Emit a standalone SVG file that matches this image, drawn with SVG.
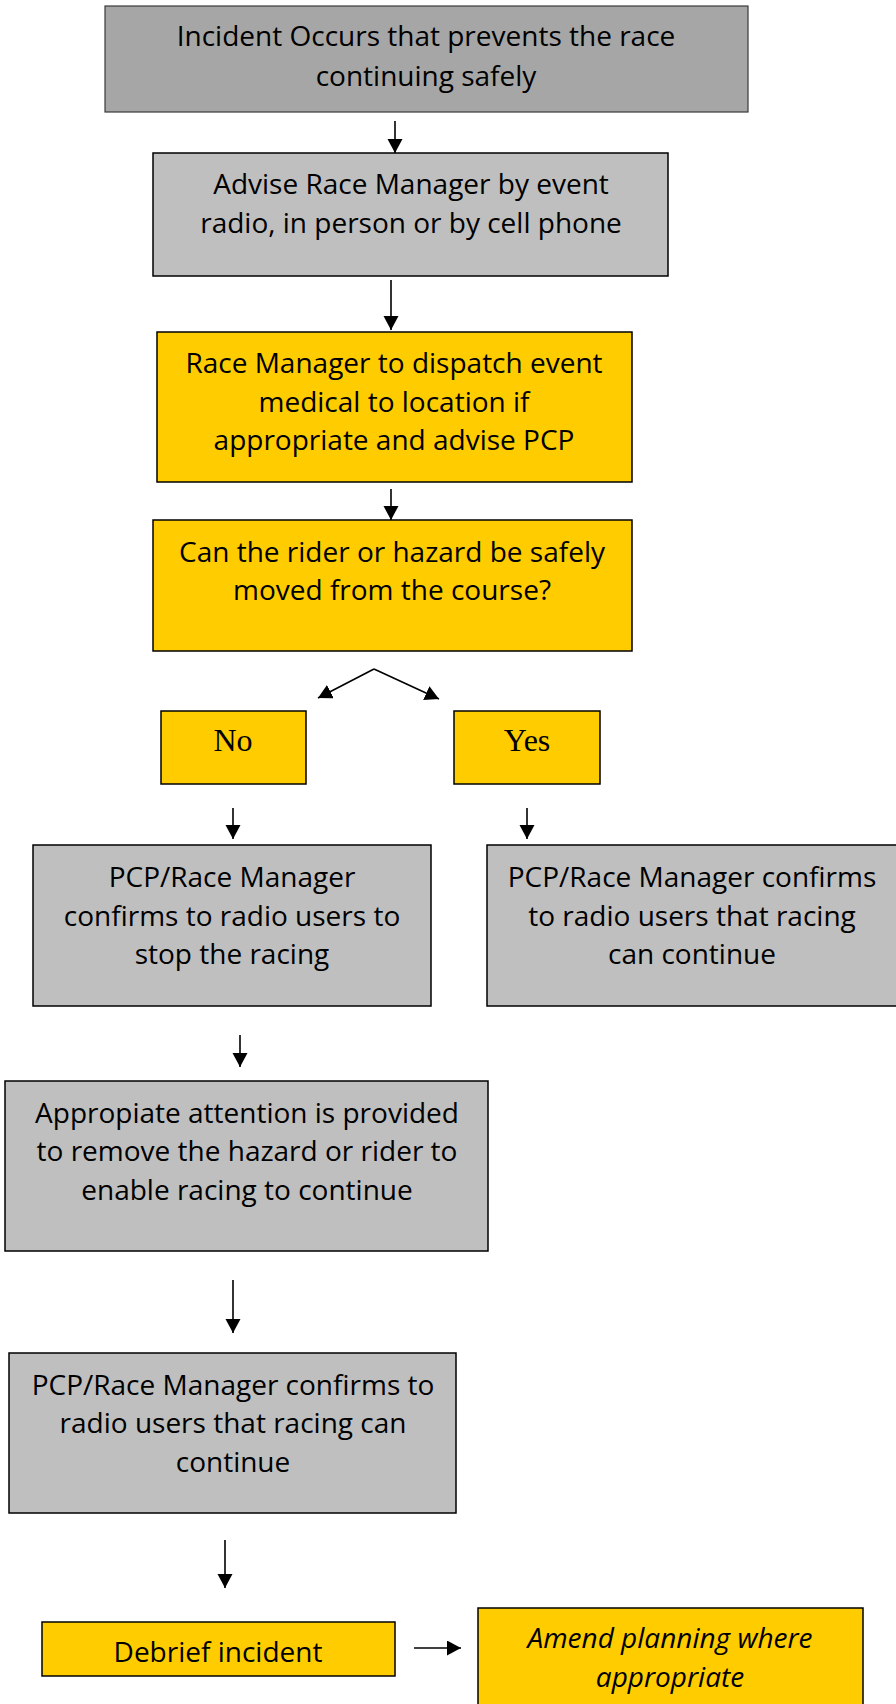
<svg xmlns="http://www.w3.org/2000/svg" width="896" height="1704" viewBox="0 0 896 1704">
  <defs>
    <style>
      .box { stroke: #000; stroke-width: 1.5; }
      .dark { fill: #a6a6a6; stroke: #3a3a3a; stroke-width: 1.2; }
      .grey { fill: #bfbfbf; }
      .gold { fill: #ffcc00; }
      .t { font-family: "Open Sans", "Liberation Sans", sans-serif; font-size: 28px; fill: #000; text-anchor: middle; }
      .serif { font-family: "Liberation Serif", serif; font-size: 32px; fill: #000; text-anchor: middle; }
      .it { font-style: italic; }
      .conn { stroke: #000; stroke-width: 1.6; fill: none; marker-end: url(#arrow); }
    </style>
    <marker id="arrow" markerUnits="userSpaceOnUse" markerWidth="16" markerHeight="16" refX="14" refY="7.5" orient="auto">
      <path d="M0,0 L14,7.5 L0,15 z" fill="#000"/>
    </marker>
  </defs>

  <rect width="896" height="1704" fill="#fff"/>

  <!-- connectors -->
  <g id="connectors">
    <line class="conn" x1="395" y1="121" x2="395" y2="153"/>
    <line class="conn" x1="391" y1="280" x2="391" y2="330"/>
    <line class="conn" x1="391" y1="489" x2="391" y2="520"/>
    <line class="conn" x1="374" y1="669" x2="318" y2="698"/>
    <line class="conn" x1="374" y1="669" x2="439" y2="699"/>
    <line class="conn" x1="233" y1="808" x2="233" y2="839"/>
    <line class="conn" x1="527" y1="808" x2="527" y2="839"/>
    <line class="conn" x1="240" y1="1035" x2="240" y2="1067"/>
    <line class="conn" x1="233" y1="1280" x2="233" y2="1333"/>
    <line class="conn" x1="225" y1="1540" x2="225" y2="1588"/>
    <line class="conn" x1="414" y1="1648" x2="461" y2="1648"/>
  </g>

  <g id="incident">
    <rect class="dark" x="105" y="6" width="643" height="106"/>
    <text class="t" x="426" y="46">Incident Occurs that prevents the race</text>
    <text class="t" x="426" y="86">continuing safely</text>
  </g>

  <g id="advise">
    <rect class="box grey" x="153" y="153" width="515" height="123"/>
    <text class="t" x="411" y="194">Advise Race Manager by event</text>
    <text class="t" x="411" y="233">radio, in person or by cell phone</text>
  </g>

  <g id="dispatch">
    <rect class="box gold" x="157" y="332" width="475" height="150"/>
    <text class="t" x="394" y="373">Race Manager to dispatch event</text>
    <text class="t" x="394" y="412">medical to location if</text>
    <text class="t" x="394" y="450">appropriate and advise PCP</text>
  </g>

  <g id="question">
    <rect class="box gold" x="153" y="520" width="479" height="131"/>
    <text class="t" x="392" y="562">Can the rider or hazard be safely</text>
    <text class="t" x="392" y="600">moved from the course?</text>
  </g>

  <g id="no">
    <rect class="box gold" x="161" y="711" width="145" height="73"/>
    <text class="serif" x="233" y="751">No</text>
  </g>

  <g id="yes">
    <rect class="box gold" x="454" y="711" width="146" height="73"/>
    <text class="serif" x="527" y="751">Yes</text>
  </g>

  <g id="stop-racing">
    <rect class="box grey" x="33" y="845" width="398" height="161"/>
    <text class="t" x="232" y="887">PCP/Race Manager</text>
    <text class="t" x="232" y="926">confirms to radio users to</text>
    <text class="t" x="232" y="964">stop the racing</text>
  </g>

  <g id="racing-continues">
    <rect class="box grey" x="487" y="845" width="420" height="161"/>
    <text class="t" x="692" y="887">PCP/Race Manager confirms</text>
    <text class="t" x="692" y="926">to radio users that racing</text>
    <text class="t" x="692" y="964">can continue</text>
  </g>

  <g id="attention">
    <rect class="box grey" x="5" y="1081" width="483" height="170"/>
    <text class="t" x="247" y="1123">Appropiate attention is provided</text>
    <text class="t" x="247" y="1161">to remove the hazard or rider to</text>
    <text class="t" x="247" y="1200">enable racing to continue</text>
  </g>

  <g id="confirm-continue">
    <rect class="box grey" x="9" y="1353" width="447" height="160"/>
    <text class="t" x="233" y="1395">PCP/Race Manager confirms to</text>
    <text class="t" x="233" y="1433">radio users that racing can</text>
    <text class="t" x="233" y="1472">continue</text>
  </g>

  <g id="debrief">
    <rect class="box gold" x="42" y="1622" width="353" height="54"/>
    <text class="t" x="218" y="1662">Debrief incident</text>
  </g>

  <g id="amend">
    <rect class="box gold" x="478" y="1608" width="385" height="110"/>
    <text class="t it" x="670" y="1648">Amend planning where</text>
    <text class="t it" x="670" y="1687">appropriate</text>
  </g>
</svg>
